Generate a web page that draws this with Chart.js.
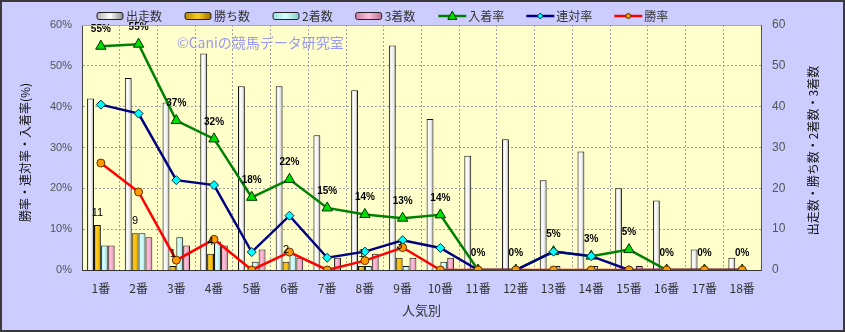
<!DOCTYPE html>
<html><head><meta charset="utf-8">
<script src="https://cdn.jsdelivr.net/npm/chart.js@4.4.1/dist/chart.umd.min.js"></script>
<style>html,body{margin:0;padding:0;background:#CCCCFF;overflow:hidden}</style>
</head><body>
<canvas id="c" width="845" height="332" style="display:block;width:845px;height:332px"></canvas>
<script>
// ---- data ----
const categories = ['1番','2番','3番','4番','5番','6番','7番','8番','9番','10番','11番','12番','13番','14番','15番','16番','17番','18番'];
const starts  = [42,47,41,53,45,45,33,44,55,37,28,32,22,29,20,17,5,3];
const wins    = [11,9,1,4,0,2,0,1,3,0,0,0,0,0,0,0,0,0];
const seconds = [6,9,8,7,2,4,0,1,1,2,0,0,1,1,0,0,0,0];
const thirds  = [6,8,6,6,5,3,3,4,3,3,0,0,0,0,1,0,0,0];
const placeRate    = [54.8,55.3,36.6,32.1,17.8,22.2,15.2,13.6,12.7,13.5,0,0,4.5,3.4,5.0,0,0,0];
const quinellaRate = [40.5,38.3,22.0,20.8,4.4,13.3,3.0,4.5,7.3,5.4,0,0,4.5,3.4,0,0,0,0];
const winRate      = [26.2,19.1,2.4,7.5,0,4.4,0,2.3,5.5,0,0,0,0,0,0,0,0,0];
const axisMax = 60, axisStep = 10;

const CJK = '"Noto Sans CJK JP", "Noto Sans", sans-serif';
const CAT_PCT = 0.73;

const barStyles = [
  {label:'出走数', stops:[[0,'#b0b0b0'],[0.3,'#ffffff'],[0.65,'#eeeeee'],[1,'#888888']]},
  {label:'勝ち数', stops:[[0,'#b88a00'],[0.35,'#ffcc22'],[0.7,'#f0b800'],[1,'#9a7200']]},
  {label:'2着数', stops:[[0,'#9adcdc'],[0.35,'#d8ffff'],[0.7,'#bdf2f2'],[1,'#86c8c8']]},
  {label:'3着数', stops:[[0,'#d080a0'],[0.35,'#ffc0dc'],[0.7,'#f0a8c8'],[1,'#b87090']]}
];
function makeGrad(ctx2, x0, x1, stops){
  const g = ctx2.createLinearGradient(x0,0,x1,0);
  stops.forEach(s=>g.addColorStop(s[0], s[1]));
  return g;
}
function barFill(bi){
  return (c) => {
    const chart = c.chart, xs = chart.scales && chart.scales.x;
    const st = barStyles[bi].stops;
    if (!xs || c.type !== 'data' || !xs.ticks || !xs.ticks.length) return st[2][1];
    const cw = xs.width / categories.length;
    const gw = cw * CAT_PCT, bw = gw / 4;
    const center = xs.getPixelForValue(c.dataIndex);
    const left = center - gw/2 + bi*bw;
    return makeGrad(chart.ctx, left, left + bw, st);
  };
}

const lineStyles = [
  {label:'入着率', color:'#008000', fill:'#00e000', border:'#003000', style:'triangle', r:6},
  {label:'連対率', color:'#000080', fill:'#00ffff', border:'#003040', style:'rectRot', r:4.5},
  {label:'勝率',   color:'#ff0000', fill:'#ff9900', border:'#603000', style:'circle', r:4}
];

function drawMarker(ctx, style, x, y, r, fill, border){
  ctx.save();
  ctx.beginPath();
  if (style === 'triangle'){
    ctx.moveTo(x, y - r*1.1);
    ctx.lineTo(x + r, y + r*0.75);
    ctx.lineTo(x - r, y + r*0.75);
    ctx.closePath();
  } else if (style === 'rectRot'){
    ctx.moveTo(x, y - r); ctx.lineTo(x + r, y); ctx.lineTo(x, y + r); ctx.lineTo(x - r, y); ctx.closePath();
  } else {
    ctx.arc(x, y, r, 0, Math.PI*2);
  }
  ctx.fillStyle = fill; ctx.fill();
  ctx.lineWidth = 1; ctx.strokeStyle = border; ctx.stroke();
  ctx.restore();
}

const framePlugin = {
  id: 'frame',
  beforeDraw(chart){
    const {ctx, chartArea:a, width, height} = chart;
    ctx.save();
    ctx.fillStyle = '#CCCCFF'; ctx.fillRect(0,0,width,height);
    ctx.fillStyle = '#FFFFCC'; ctx.fillRect(a.left, a.top, a.right-a.left, a.bottom-a.top);
    ctx.restore();
  },
  beforeDatasetsDraw(chart){
    const {ctx, chartArea:a} = chart;
    ctx.save();
    ctx.font = '14px ' + CJK;
    ctx.fillStyle = '#9a9af2';
    ctx.textBaseline = 'middle';
    ctx.fillText('©Caniの競馬データ研究室', a.left + 95, a.top + 18);
    ctx.restore();
  },
  afterDatasetsDraw(chart){
    const {ctx} = chart;
    const xs = chart.scales.x, yL = chart.scales.yL, yR = chart.scales.yR;
    ctx.save();
    ctx.fillStyle = '#000';
    ctx.textAlign = 'center';
    ctx.textBaseline = 'middle';
    // place-rate labels
    ctx.font = 'bold 10px "Liberation Sans", Arial, sans-serif';
    placeRate.forEach((v,i)=>{
      ctx.fillText(Math.round(v) + '%', xs.getPixelForValue(i), yL.getPixelForValue(v) - 17);
    });
    // win-count labels
    ctx.font = '11px "Liberation Sans", Arial, sans-serif';
    const cw = xs.width / categories.length, gw = cw*CAT_PCT, bw = gw/4;
    wins.forEach((v,i)=>{
      if (!v) return;
      const x = xs.getPixelForValue(i) - gw/2 + 1.5*bw;
      ctx.fillText(String(v), x, yR.getPixelForValue(v) - 12);
    });
    ctx.restore();
  },
  afterDraw(chart){
    const {ctx, chartArea:a, width, height} = chart;
    ctx.save();
    // top border of plot
    ctx.strokeStyle = '#a8a8a8'; ctx.lineWidth = 1;
    ctx.beginPath(); ctx.moveTo(a.left, a.top + 0.5); ctx.lineTo(a.right, a.top + 0.5); ctx.stroke();
    // outer frame
    ctx.strokeStyle = '#3a3a3a'; ctx.lineWidth = 2;
    ctx.strokeRect(1, 1, width-2, height-2);
    // vertical axis titles
    ctx.fillStyle = '#111';
    ctx.font = '12px ' + CJK;
    ctx.textAlign = 'center'; ctx.textBaseline = 'middle';
    const midY = (a.top + a.bottom)/2 + 5;
    ctx.save(); ctx.translate(25, midY); ctx.rotate(-Math.PI/2);
    ctx.fillText('勝率・連対率・入着率(%)', 0, 0); ctx.restore();
    ctx.save(); ctx.translate(813, midY - 2); ctx.rotate(-Math.PI/2);
    ctx.fillText('出走数・勝ち数・2着数・3着数', 0, 0); ctx.restore();
    // legend
    ctx.font = '12px ' + CJK;
    ctx.textAlign = 'left';
    let x = 97; const y = 16;
    barStyles.forEach(b=>{
      const w = 26, h = 7;
      ctx.fillStyle = makeGrad(ctx, x, x+w, [[0,b.stops[0][1]],[0.5,b.stops[1][1]],[1,b.stops[3][1]]]);
      ctx.beginPath();
      if (ctx.roundRect) ctx.roundRect(x, y - h/2, w, h, 2); else ctx.rect(x, y-h/2, w, h);
      ctx.fill(); ctx.strokeStyle = '#222'; ctx.lineWidth = 1; ctx.stroke();
      ctx.fillStyle = '#333';
      ctx.fillText(b.label, x + w + 3, y);
      x += w + 3 + ctx.measureText(b.label).width + 23;
    });
    lineStyles.forEach(l=>{
      const w = 28;
      ctx.strokeStyle = l.color; ctx.lineWidth = 2.5;
      ctx.beginPath(); ctx.moveTo(x, y); ctx.lineTo(x + w, y); ctx.stroke();
      drawMarker(ctx, l.style, x + w/2, y, l.r - 1.5, l.fill, l.border);
      ctx.fillStyle = '#333';
      ctx.fillText(l.label, x + w + 2, y);
      x += w + 2 + ctx.measureText(l.label).width + 22;
    });
    ctx.restore();
  }
};

const barData = [starts, wins, seconds, thirds];
const lineData = [placeRate, quinellaRate, winRate];

const datasets = [];
barData.forEach((arr, bi)=>{
  datasets.push({
    type:'bar', label: barStyles[bi].label, data: arr, yAxisID:'yR', order:10,
    backgroundColor: barFill(bi), borderColor:'#111', borderWidth:1,
    barPercentage:1.0, categoryPercentage:CAT_PCT
  });
});
lineData.forEach((arr, li)=>{
  const s = lineStyles[li];
  datasets.push({
    type:'line', label:s.label, data:arr, yAxisID:'yL', order: 3 - li,
    borderColor:s.color, borderWidth:2.5, fill:false, tension:0,
    pointStyle:s.style, pointRadius:s.r, pointBackgroundColor:s.fill,
    pointBorderColor:s.border, pointBorderWidth:1, pointHoverRadius:s.r
  });
});

new Chart(document.getElementById('c'), {
  data: { labels: categories, datasets },
  options: {
    responsive:false, animation:false, devicePixelRatio:1,
    layout:{padding:{top:25,left:0,right:0,bottom:0}},
    plugins:{ legend:{display:false}, tooltip:{enabled:false} },
    scales:{
      x:{
        type:'category', offset:true,
        grid:{display:true, offset:true, color:'#a0a0a0', drawTicks:false},
        border:{display:true, color:'#333', width:1, dash:[2,2]},
        ticks:{padding:11, color:'#333', font:{family:CJK, size:12}, maxRotation:0, autoSkip:false},
        title:{display:true, text:'人気別', color:'#333', font:{family:CJK, size:13}, padding:{top:0,bottom:14}},
        afterFit(s){ s.height = 62; }
      },
      yL:{
        type:'linear', position:'left', min:0, max:axisMax,
        grid:{display:true, color:'#a0a0a0', drawTicks:false},
        border:{display:true, color:'#444', width:1, dash:[2,2]},
        ticks:{stepSize:axisStep, padding:10, color:'#555', font:{family:'"Liberation Sans", Arial, sans-serif', size:11}, callback:v=>v+'%'},
        afterFit(s){ s.width = 82; }
      },
      yR:{
        type:'linear', position:'right', min:0, max:axisMax,
        grid:{display:false, drawTicks:false},
        border:{display:true, color:'#555', width:1},
        ticks:{stepSize:axisStep, padding:11, color:'#555', font:{family:'"Liberation Sans", Arial, sans-serif', size:12}},
        afterFit(s){ s.width = 84; }
      }
    }
  },
  plugins:[framePlugin]
});
</script>
</body></html>
